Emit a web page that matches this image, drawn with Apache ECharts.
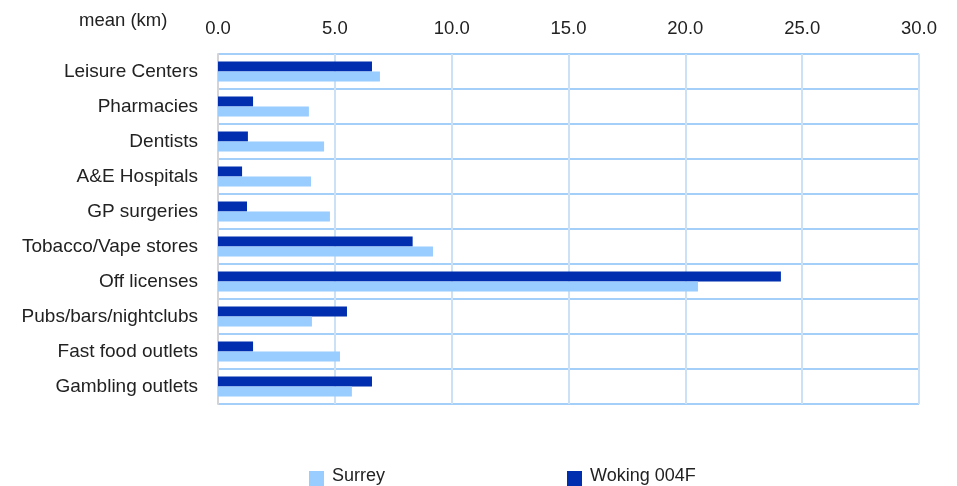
<!DOCTYPE html>
<html>
<head>
<meta charset="utf-8">
<script src="https://cdn.jsdelivr.net/npm/echarts@6/dist/echarts.min.js"></script>
<style>html,body{margin:0;padding:0;background:#fff}#c{width:957px;height:486px}</style>
</head>
<body>
<div id="c"></div>
<script>
var categories = ['Leisure Centers','Pharmacies','Dentists','A&E Hospitals','GP surgeries','Tobacco/Vape stores','Off licenses','Pubs/bars/nightclubs','Fast food outlets','Gambling outlets'];
var surrey = [6.93, 3.89, 4.54, 3.98, 4.79, 9.20, 20.54, 4.02, 5.22, 5.73];
var woking = [6.59, 1.50, 1.28, 1.03, 1.24, 8.33, 24.09, 5.52, 1.50, 6.59];
var xTicks = ['0.0','5.0','10.0','15.0','20.0','25.0','30.0'];

var FONT = 'Liberation Sans, Arial, sans-serif';
var FS = 19;
var ICON = 'path://M0,0L0,0M0,4L15,4L15,19L0,19Z';
var chart = echarts.init(document.getElementById('c'), null, {renderer: 'canvas'});
chart.setOption({
  animation: false,
  backgroundColor: '#fff',
  title: {
    text: 'mean (km)', left: 74, top: 6,
    textStyle: {fontFamily: FONT, fontSize: 18.5, fontWeight: 'normal', color: '#222'}
  },
  legend: [
    {data: ['Surrey'], left: 304, top: 462, itemWidth: 15, itemHeight: 19, icon: ICON,
     textStyle: {fontFamily: FONT, fontSize: 18, color: '#222', padding: [0,0,0,3]}},
    {data: ['Woking 004F'], left: 562, top: 462, itemWidth: 15, itemHeight: 19, icon: ICON,
     textStyle: {fontFamily: FONT, fontSize: 18, color: '#222', padding: [0,0,0,3]}}
  ],
  grid: {left: 218, right: 38, top: 54, bottom: 82, containLabel: false},
  xAxis: {
    type: 'value', position: 'top', min: 0, max: 30, interval: 5,
    axisLine: {show: false},
    axisTick: {show: false},
    axisLabel: {
      margin: 15.5, fontFamily: FONT, fontSize: 18.5, color: '#222',
      formatter: function (v) { return xTicks[Math.round(v / 5)]; }
    },
    splitLine: {show: true, lineStyle: {color: '#cce0f6', width: 2}}
  },
  yAxis: {
    type: 'category', data: categories, inverse: true,
    axisLine: {show: true, lineStyle: {color: '#d4d4d8', width: 2}},
    axisTick: {show: false},
    axisLabel: {margin: 20, fontFamily: FONT, fontSize: FS, color: '#222'},
    splitLine: {show: true, lineStyle: {color: '#a3cff8', width: 2}}
  },
  series: [
    {name: 'Woking 004F', type: 'bar', data: woking, barWidth: 10, barGap: '0%',
     itemStyle: {color: '#002eae'}},
    {name: 'Surrey', type: 'bar', data: surrey, barWidth: 10, barGap: '0%',
     itemStyle: {color: '#99ccff'}}
  ]
});
</script>
</body>
</html>
